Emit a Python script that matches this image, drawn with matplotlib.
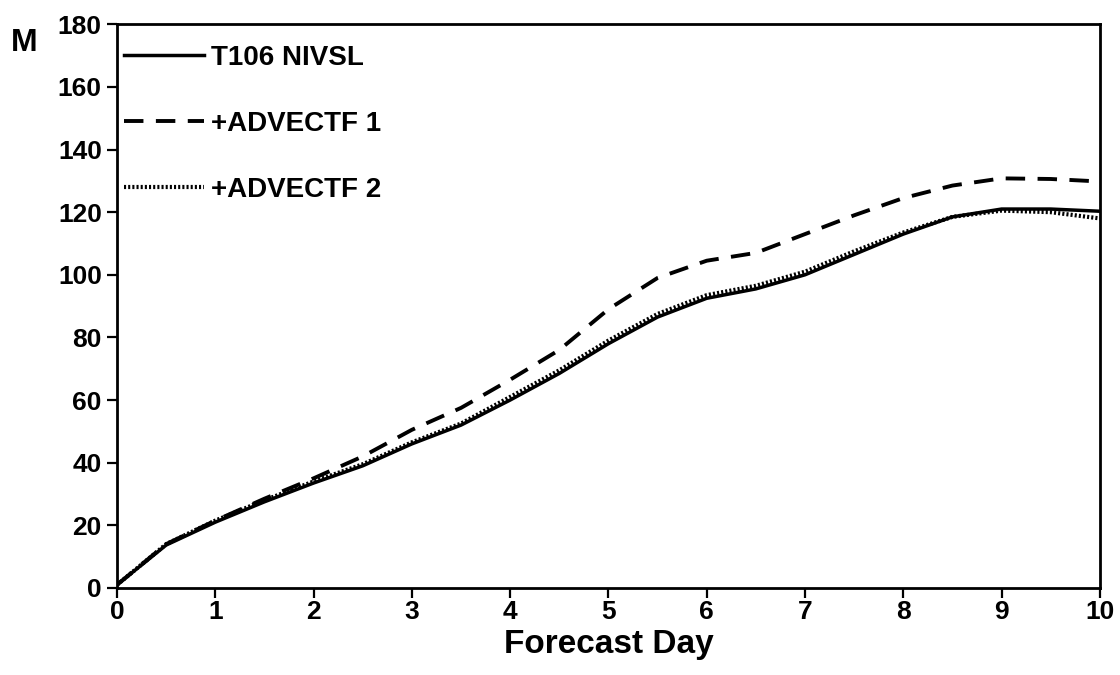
import matplotlib
matplotlib.use("Agg")
import matplotlib.pyplot as plt

plt.rcParams['font.family'] = ['Liberation Sans', 'DejaVu Sans']
plt.rcParams['font.weight'] = 'bold'

days = [0, 0.5, 1, 1.5, 2, 2.5, 3, 3.5, 4, 4.5, 5, 5.5, 6, 6.5, 7, 7.5, 8, 8.5, 9, 9.5, 10]
t106 = [1, 13.7, 21, 27.5, 33.5, 39, 46, 52, 60, 68.5, 78, 86.5, 92.5, 95.5, 100, 106.5, 113, 118.5, 121, 121, 120.3]
advectf1 = [1, 14, 21.5, 28.5, 35, 42, 50.5, 57.5, 66.5, 76, 89, 99, 104.5, 107, 113, 119, 124.5, 128.5, 130.8, 130.6, 129.8]
advectf2 = [1, 14, 21.5, 28, 34, 39.5, 46.5, 52.5, 61, 69.5, 79, 87.5, 93.5, 96.5, 101, 107.5, 113.5, 118.5, 120.5, 120, 118]
labels = ["T106 NIVSL", "+ADVECTF 1", "+ADVECTF 2"]
xticks = list(range(0, 11))
yticks = list(range(0, 181, 20))

fig = plt.figure(figsize=(11.2, 6.75), dpi=100)
ax = fig.add_axes([0.1045, 0.129, 0.8775, 0.835])

ax.plot(days, t106, color='black', lw=2.5, linestyle='-', label=labels[0])
ax.plot(days, advectf1, color='black', lw=2.8, linestyle=(0, (5.0, 3.2)), label=labels[1])
ax.plot(days, advectf2, color='black', lw=3.0, linestyle=(0, (0.5, 0.5)), label=labels[2])

ax.set_xlim(0, 10)
ax.set_ylim(0, 180)
ax.set_xticks(xticks)
ax.set_yticks(yticks)
ax.tick_params(axis='both', direction='out', length=7, width=1.6, labelsize=19)
ax.tick_params(axis='y', pad=4)
ax.tick_params(axis='x', pad=2)
for lab in ax.get_xticklabels() + ax.get_yticklabels():
    lab.set_fontweight('bold')
for s in ax.spines.values():
    s.set_linewidth(2.0)

ax.set_xlabel("Forecast Day", fontsize=24, fontweight='bold', labelpad=3)
fig.text(0.010, 0.937, "M", fontsize=23, fontweight='bold', ha='left', va='center')

leg = ax.legend(loc='upper left', bbox_to_anchor=(0.007, 0.964), frameon=False,
                prop={'size': 20, 'weight': 'bold'}, handlelength=2.9,
                handletextpad=0.25, labelspacing=1.45, borderaxespad=0.0, borderpad=0.0)

fig.savefig("out.png", dpi=100, facecolor='white')
